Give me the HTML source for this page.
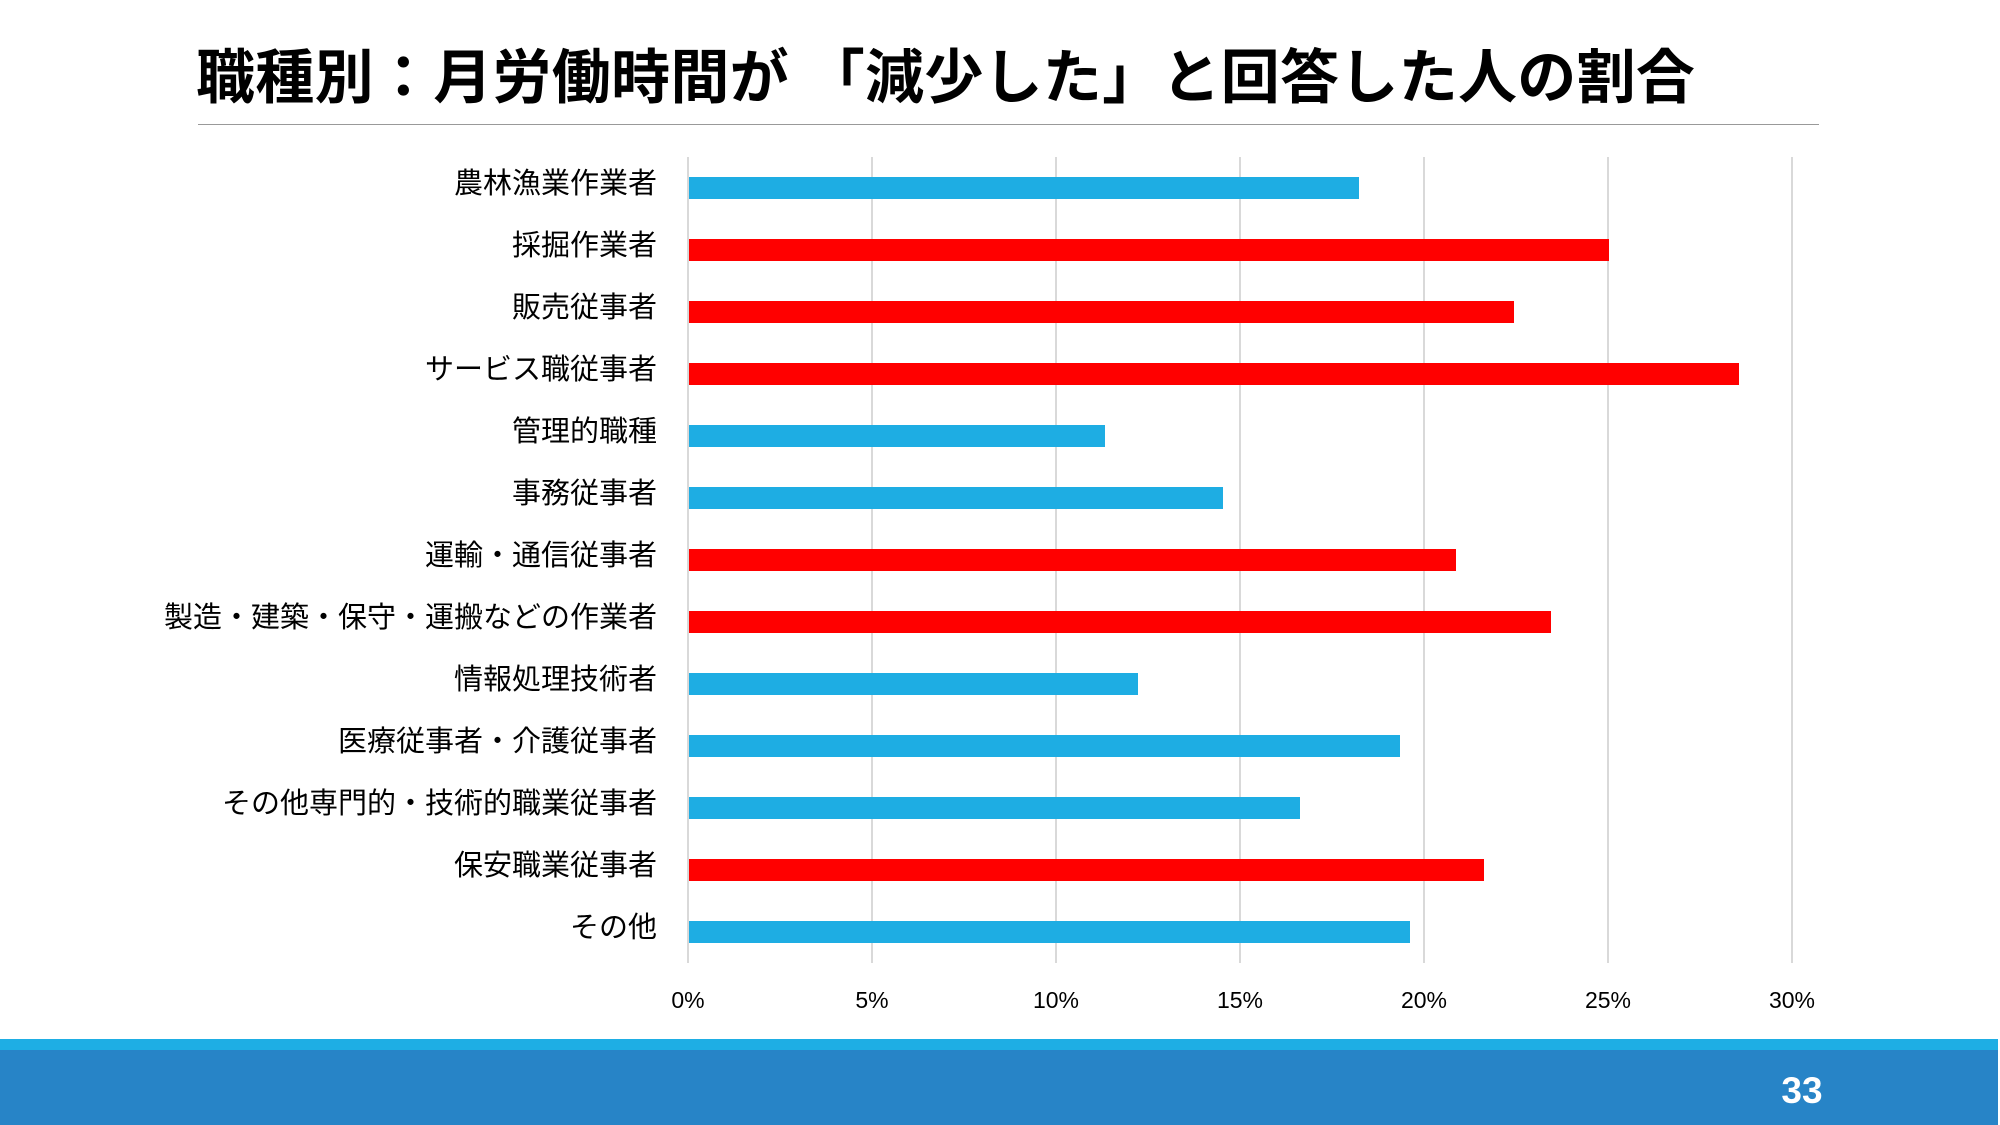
<!DOCTYPE html>
<html><head><meta charset="utf-8"><style>
html,body{margin:0;padding:0;background:#fff;}
body{width:2000px;height:1125px;position:relative;overflow:hidden;font-family:"Liberation Sans","Noto Sans CJK JP",sans-serif;}
.t{position:absolute;left:196px;top:39px;font-size:59px;font-weight:bold;color:#000;white-space:nowrap;letter-spacing:0.3px;line-height:78px;}
.hr{position:absolute;left:198px;width:1621px;top:124px;height:1px;background:#999;}
.g{position:absolute;top:157px;height:806px;width:2px;background:#d9d9d9;}
.lab{position:absolute;right:1343px;font-size:29px;white-space:nowrap;color:#000;line-height:34px;}
.bar{position:absolute;left:689px;height:22px;}
.tk{position:absolute;top:985px;font-size:23px;width:80px;text-align:center;line-height:30px;}
</style></head><body>
<div class="t">職種別：月労働時間が 「減少した」と回答した人の割合</div>
<div class="hr"></div>
<div class="g" style="left:687px"></div>
<div class="g" style="left:871px"></div>
<div class="g" style="left:1055px"></div>
<div class="g" style="left:1239px"></div>
<div class="g" style="left:1423px"></div>
<div class="g" style="left:1607px"></div>
<div class="g" style="left:1791px"></div>

<div class="lab" style="top:167px">農林漁業作業者</div><div class="bar" style="top:177px;width:670px;background:#1eade3"></div>
<div class="lab" style="top:229px">採掘作業者</div><div class="bar" style="top:239px;width:920px;background:#ff0000"></div>
<div class="lab" style="top:291px">販売従事者</div><div class="bar" style="top:301px;width:825px;background:#ff0000"></div>
<div class="lab" style="top:353px">サービス職従事者</div><div class="bar" style="top:363px;width:1050px;background:#ff0000"></div>
<div class="lab" style="top:415px">管理的職種</div><div class="bar" style="top:425px;width:416px;background:#1eade3"></div>
<div class="lab" style="top:477px">事務従事者</div><div class="bar" style="top:487px;width:534px;background:#1eade3"></div>
<div class="lab" style="top:539px">運輸・通信従事者</div><div class="bar" style="top:549px;width:767px;background:#ff0000"></div>
<div class="lab" style="top:601px">製造・建築・保守・運搬などの作業者</div><div class="bar" style="top:611px;width:862px;background:#ff0000"></div>
<div class="lab" style="top:663px">情報処理技術者</div><div class="bar" style="top:673px;width:449px;background:#1eade3"></div>
<div class="lab" style="top:725px">医療従事者・介護従事者</div><div class="bar" style="top:735px;width:711px;background:#1eade3"></div>
<div class="lab" style="top:787px">その他専門的・技術的職業従事者</div><div class="bar" style="top:797px;width:611px;background:#1eade3"></div>
<div class="lab" style="top:849px">保安職業従事者</div><div class="bar" style="top:859px;width:795px;background:#ff0000"></div>
<div class="lab" style="top:911px">その他</div><div class="bar" style="top:921px;width:721px;background:#1eade3"></div>

<div class="tk" style="left:648px">0%</div>
<div class="tk" style="left:832px">5%</div>
<div class="tk" style="left:1016px">10%</div>
<div class="tk" style="left:1200px">15%</div>
<div class="tk" style="left:1384px">20%</div>
<div class="tk" style="left:1568px">25%</div>
<div class="tk" style="left:1752px">30%</div>

<div style="position:absolute;left:0;top:1039px;width:1998px;height:11px;background:#1eaee4"></div>
<div style="position:absolute;left:0;top:1050px;width:1998px;height:75px;background:#2784c7"></div>
<div style="position:absolute;left:1762px;top:1069px;width:80px;text-align:center;color:#fff;font-weight:bold;font-size:37px;line-height:44px;">33</div>
</body></html>
